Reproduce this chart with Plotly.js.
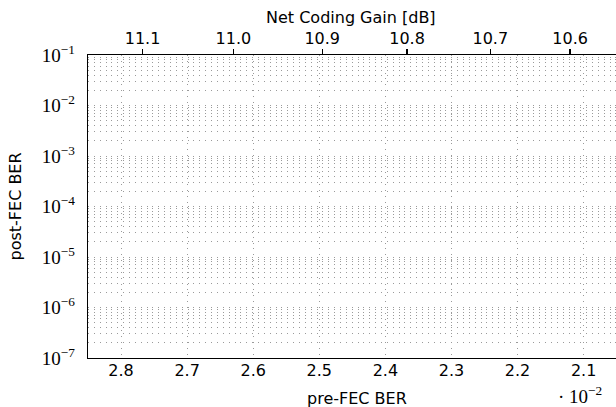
<!DOCTYPE html>
<html>
<head>
<meta charset="utf-8">
<script src="https://cdn.plot.ly/plotly-3.0.1.min.js"></script>
<style>
  html, body { margin: 0; padding: 0; background: #fff; }
  #chart { width: 616px; height: 407px; }
</style>
</head>
<body>
<div id="chart"></div>
<script>
// pre-FEC BER axis (values in units of 1e-2), drawn right-to-left
const preFecRange = [2.85, 2.051];
const preFecTicks = [2.8, 2.7, 2.6, 2.5, 2.4, 2.3, 2.2, 2.1];
const preFecTickText = ['2.8', '2.7', '2.6', '2.5', '2.4', '2.3', '2.2', '2.1'];

// Net coding gain labels and the pre-FEC BER (1e-2) where each one falls
const ncgLabels = ['11.1', '11.0', '10.9', '10.8', '10.7', '10.6'];
const ncgAtPreFec = [2.7675, 2.630, 2.4956, 2.3672, 2.2412, 2.1204];

// post-FEC BER decades shown on the log axis
const postFecDecades = [-1, -2, -3, -4, -5, -6, -7];
const postFecRange = [-7, -1];
const minorMantissas = [2, 3, 4, 5, 6, 7, 8, 9];

const postFecTickVals = postFecDecades.map(e => Math.pow(10, e));
const postFecTickText = postFecDecades.map(e => '10<sup>\u2212' + Math.abs(e) + '</sup>');
const postFecMinor = [];
postFecDecades.slice(1).forEach(e => {
  minorMantissas.forEach(m => postFecMinor.push(m * Math.pow(10, e)));
});

const sans = 'DejaVu Sans, sans-serif';
const serif = 'Liberation Serif, serif';
const dots = '1px,4.86px';
const gridCol = '#9a9a9a';

const traces = [
  { x: [], y: [], type: 'scatter', mode: 'lines', xaxis: 'x', yaxis: 'y', showlegend: false, hoverinfo: 'skip' },
  { x: [], y: [], type: 'scatter', mode: 'lines', xaxis: 'x2', yaxis: 'y', showlegend: false, hoverinfo: 'skip' }
];

const layout = {
  width: 616,
  height: 407,
  margin: { l: 88, r: 0, t: 55, b: 49, pad: 0 },
  paper_bgcolor: '#ffffff',
  plot_bgcolor: '#ffffff',
  showlegend: false,
  xaxis: {
    range: preFecRange,
    tickmode: 'array',
    tickvals: preFecTicks,
    ticktext: preFecTickText,
    ticks: 'inside',
    ticklen: 0.1,
    ticklabelposition: 'outside',
    ticklabelstandoff: -3,
    showline: true,
    linecolor: '#000',
    linewidth: 1.3,
    showgrid: true,
    gridcolor: gridCol,
    gridwidth: 1,
    griddash: dots,
    zeroline: false,
    tickfont: { family: sans, size: 16, color: '#000' }
  },
  xaxis2: {
    overlaying: 'x',
    side: 'top',
    anchor: 'y',
    range: preFecRange,
    tickmode: 'array',
    tickvals: ncgAtPreFec,
    ticktext: ncgLabels,
    ticks: 'outside',
    ticklen: 5,
    tickwidth: 1.3,
    tickcolor: '#000',
    ticklabelstandoff: -2,
    showline: true,
    linecolor: '#000',
    linewidth: 1.3,
    showgrid: false,
    zeroline: false,
    tickfont: { family: sans, size: 16, color: '#000' }
  },
  yaxis: {
    type: 'log',
    range: postFecRange,
    tickmode: 'array',
    tickvals: postFecTickVals,
    ticktext: postFecTickText,
    ticks: '',
    ticklabelstandoff: 8,
    showline: true,
    linecolor: '#000',
    linewidth: 1.3,
    showgrid: true,
    gridcolor: gridCol,
    gridwidth: 1,
    griddash: dots,
    zeroline: false,
    tickfont: { family: serif, size: 19, color: '#000' },
    minor: {
      tickmode: 'array',
      tickvals: postFecMinor,
      ticks: '',
      showgrid: true,
      gridcolor: gridCol,
      gridwidth: 1,
      griddash: dots
    }
  },
  annotations: [
    {
      text: 'Net Coding Gain [dB]', xref: 'paper', yref: 'paper',
      x: 0.499, y: 1, yshift: 38, xanchor: 'center', yanchor: 'middle',
      showarrow: false, font: { family: sans, size: 16, color: '#000' }
    },
    {
      text: 'pre-FEC BER', xref: 'paper', yref: 'paper',
      x: 0.509, y: 0, yshift: -40, xanchor: 'center', yanchor: 'middle',
      showarrow: false, font: { family: sans, size: 16, color: '#000' }
    },
    {
      text: 'post-FEC BER', xref: 'paper', yref: 'paper',
      x: 0, xshift: -73, y: 0.5, xanchor: 'center', yanchor: 'middle',
      textangle: -90,
      showarrow: false, font: { family: sans, size: 16, color: '#000' }
    },
    {
      text: '\u00b7 10<sup>\u22122</sup>', xref: 'paper', yref: 'paper',
      x: 1, xshift: -12, y: 0, yshift: -37, xanchor: 'right', yanchor: 'middle',
      showarrow: false, font: { family: serif, size: 19, color: '#000' }
    }
  ]
};

Plotly.newPlot('chart', traces, layout, { staticPlot: true, displayModeBar: false });
</script>
</body>
</html>
